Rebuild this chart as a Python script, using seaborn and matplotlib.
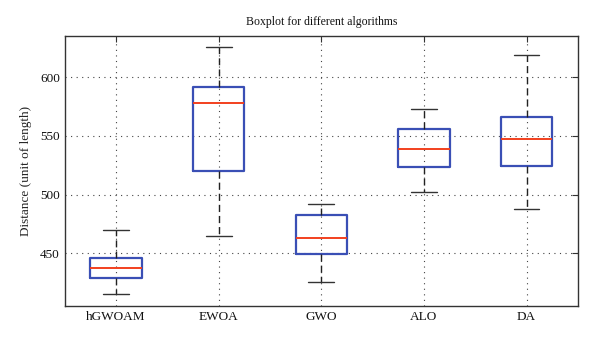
import matplotlib
matplotlib.use("Agg")
import matplotlib.pyplot as plt
import seaborn as sns
import pandas as pd

algorithms = ["hGWOAM", "EWOA", "GWO", "ALO", "DA"]
# five-number summaries: min, Q1, median, Q3, max
hgwoam = [415.4, 428.7, 437.5, 446.0, 469.6]
ewoa = [464.7, 520.2, 577.8, 591.5, 625.5]
gwo = [425.3, 449.7, 463.4, 482.7, 492.4]
alo = [502.4, 523.9, 538.8, 556.2, 572.6]
da = [488.0, 524.2, 547.2, 566.0, 619.0]

values = [hgwoam, ewoa, gwo, alo, da]
df = pd.DataFrame({
    "algorithm": [a for a, v in zip(algorithms, values) for _ in v],
    "distance": [x for v in values for x in v],
})

sns.set_style("white")
plt.rcParams["font.family"] = ["Liberation Serif", "DejaVu Serif"]
plt.rcParams["text.color"] = "#111111"

fig = plt.figure(figsize=(6.0, 3.44), dpi=100)
ax = fig.add_axes([0.108, 0.110, 0.855, 0.785])

blue = "#3a4fb5"
red = "#f2401e"
sns.boxplot(data=df, x="algorithm", y="distance", order=algorithms, ax=ax,
            whis=(0, 100), width=0.5, fill=False, linewidth=1.6,
            boxprops=dict(color=blue, linewidth=1.6),
            medianprops=dict(color=red, linewidth=1.4),
            whiskerprops=dict(color="#222222", linestyle=(0, (5, 3)), linewidth=1.0),
            capprops=dict(color="#333333", linewidth=1.0),
            showfliers=False)

ax.set_ylim(405, 635)
ax.set_xlim(-0.5, 4.5)
ax.set_yticks([450, 500, 550, 600])
ax.grid(True, color="#444444", linestyle=(0, (1, 4)), linewidth=0.8)
ax.set_axisbelow(True)
ax.tick_params(direction="in", top=True, right=True, length=4, labelsize=9.5,
               color="#333333", labelcolor="#111111")
for s in ax.spines.values():
    s.set_color("#333333")
    s.set_linewidth(1.0)
ax.set_xlabel("")
ax.set_ylabel("Distance (unit of length)", fontsize=9.5, labelpad=6)
ax.set_title("Boxplot for different algorithms", fontsize=8.5, pad=8)

fig.savefig("out.png", dpi=100)
